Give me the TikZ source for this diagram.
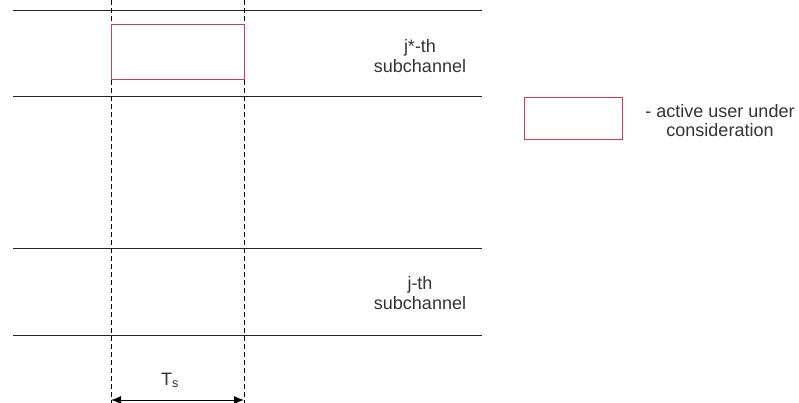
\documentclass[tikz,border=0pt]{standalone}
\usepackage{fontspec}
\setmainfont{Liberation Sans}
\usetikzlibrary{arrows.meta}
\definecolor{boxred}{RGB}{205,60,90}
\tikzset{
  hline/.style={line width=0.9pt, black!85},
  vdash/.style={line width=0.8pt, dash pattern=on 5pt off 3pt},
  userbox/.style={draw=boxred, line width=1pt, inner sep=0pt},
  lbl/.style={align=center, inner sep=0pt, font=\fontsize{18}{20}\selectfont, text=black!80},
}
\begin{document}
\begin{tikzpicture}[x=1pt,y=-1pt]
\useasboundingbox (0,0) rectangle (799,403);
% horizontal lines
\coordinate (h1l) at (13,10);  \coordinate (h1r) at (482,10);
\coordinate (h2l) at (13,96);  \coordinate (h2r) at (482,96);
\coordinate (h3l) at (13,248); \coordinate (h3r) at (482,248);
\coordinate (h4l) at (13,335); \coordinate (h4r) at (482,335);
\draw[hline] (h1l) -- (h1r);
\draw[hline] (h2l) -- (h2r);
\draw[hline] (h3l) -- (h3r);
\draw[hline] (h4l) -- (h4r);
% dashed verticals
\coordinate (v1t) at (111,0); \coordinate (v1b) at (111,403);
\coordinate (v2t) at (244,0); \coordinate (v2b) at (244,403);
\draw[vdash] (v1t) -- (v1b);
\draw[vdash] (v2t) -- (v2b);
% active user box
\node[userbox, minimum width=133pt, minimum height=55pt] (ubox) at (177.5,52.5) {};
% labels
\node[lbl] (jstar) at (420,56.5) {j*-th\\subchannel};
\node[lbl] (jth) at (420,293) {j-th\\subchannel};
% legend
\node[userbox, minimum width=98pt, minimum height=42pt] (lbox) at (573,119) {};
\node[lbl, font=\fontsize{18}{19}\selectfont] (ltxt) at (720,120.5) {- active user under\\consideration};
% Ts arrow
\coordinate (a1) at (111,400);
\coordinate (a2) at (244,400);
\draw[{Latex[length=10pt,width=8pt]}-{Latex[length=10pt,width=8pt]}, line width=1pt] (a1) -- (a2);
\node[lbl, anchor=base] (ts) at (170,385) {T\textsubscript{s}};
\end{tikzpicture}
\end{document}
